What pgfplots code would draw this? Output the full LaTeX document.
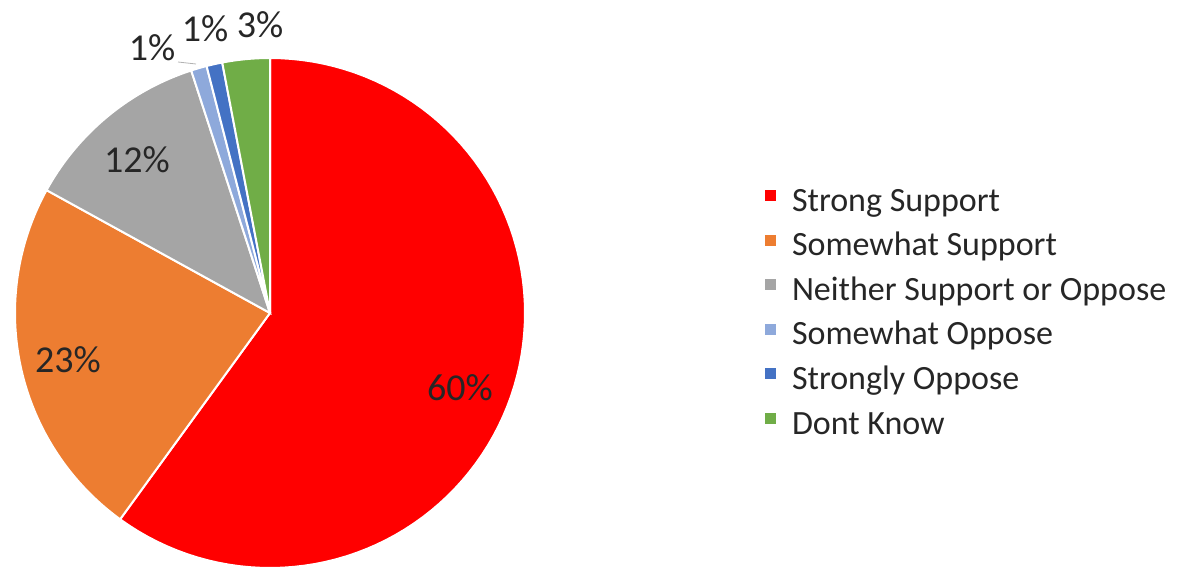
\documentclass[border=0pt]{standalone}
\usepackage{fontspec}
\setmainfont{Carlito}
\usepackage{pgfplots}
\usepackage{pgfplotstable}
\pgfplotsset{compat=1.18}
\definecolor{cSS}{HTML}{FF0000}
\definecolor{cSWS}{HTML}{ED7D31}
\definecolor{cN}{HTML}{A5A5A5}
\definecolor{cSO}{HTML}{8EA9DB}
\definecolor{cStO}{HTML}{4472C4}
\definecolor{cDK}{HTML}{70AD47}
\definecolor{txt}{HTML}{262626}
\pgfplotstableread{
idx value
0 60
1 23
2 12
3 1
4 1
5 3
}\piedata
\begin{document}
\begin{tikzpicture}
\useasboundingbox (0,0) rectangle (589.5pt,284.5pt);
% cumulative angles (clockwise from top)
\pgfplotstablegetelem{0}{value}\of\piedata\let\vA\pgfplotsretval
\pgfplotstablegetelem{1}{value}\of\piedata\let\vB\pgfplotsretval
\pgfplotstablegetelem{2}{value}\of\piedata\let\vC\pgfplotsretval
\pgfplotstablegetelem{3}{value}\of\piedata\let\vD\pgfplotsretval
\pgfplotstablegetelem{4}{value}\of\piedata\let\vE\pgfplotsretval
\pgfplotstablegetelem{5}{value}\of\piedata\let\vF\pgfplotsretval
\pgfmathsetmacro\aO{90}
\pgfmathsetmacro\aA{\aO-3.6*\vA}
\pgfmathsetmacro\aB{\aA-3.6*\vB}
\pgfmathsetmacro\aC{\aB-3.6*\vC}
\pgfmathsetmacro\aD{\aC-3.6*\vD}
\pgfmathsetmacro\aE{\aD-3.6*\vE}
\pgfmathsetmacro\aF{\aE-3.6*\vF}
\begin{axis}[
  scale only axis, width=589.5pt, height=284.5pt,
  xmin=0, xmax=1179, ymin=0, ymax=569,
  hide axis, clip=false,
  legend style={at={(axis cs:765,382)}, anchor=north west, draw=none, fill=none,
    inner sep=0pt, outer sep=0pt, row sep=6.3pt, column sep=8pt,
    font=\fontsize{17}{19}\selectfont, text=txt,
    nodes={inner sep=0pt, text height=12pt, text depth=4pt}},
  legend cell align=left,
  legend image code/.code={\path[#1,draw=none] (0pt,1pt) rectangle (5.5pt,6.5pt);},
  every axis plot/.append style={draw=white, line width=1pt, samples=90, variable=\t},
]
\addplot[fill=cSS,  domain=\aA:\aO] ({270+255*cos(\t)},{256+255*sin(\t)}) -- (270,256) -- cycle;
\addlegendentry{Strong Support}
\addplot[fill=cSWS, domain=\aB:\aA] ({270+255*cos(\t)},{256+255*sin(\t)}) -- (270,256) -- cycle;
\addlegendentry{Somewhat Support}
\addplot[fill=cN,   domain=\aC:\aB] ({270+255*cos(\t)},{256+255*sin(\t)}) -- (270,256) -- cycle;
\addlegendentry{Neither Support or Oppose}
\addplot[fill=cSO,  domain=\aD:\aC, samples=10] ({270+255*cos(\t)},{256+255*sin(\t)}) -- (270,256) -- cycle;
\addlegendentry{Somewhat Oppose}
\addplot[fill=cStO, domain=\aE:\aD, samples=10] ({270+255*cos(\t)},{256+255*sin(\t)}) -- (270,256) -- cycle;
\addlegendentry{Strongly Oppose}
\addplot[fill=cDK,  domain=\aF:\aE, samples=20] ({270+255*cos(\t)},{256+255*sin(\t)}) -- (270,256) -- cycle;
\addlegendentry{Dont Know}
\draw[gray!60, line width=0.4pt] (178,507) -- (196,505);
\begin{scope}[every node/.style={font=\fontsize{19}{22}\selectfont, text=txt, inner sep=0pt}]
\node at (460,181) {60\%};
\node at (68,209) {23\%};
\node at (137,409) {12\%};
\node at (152,521) {1\%};
\node at (205,540) {1\%};
\node at (260,544) {3\%};
\end{scope}
\end{axis}
\end{tikzpicture}
\end{document}
